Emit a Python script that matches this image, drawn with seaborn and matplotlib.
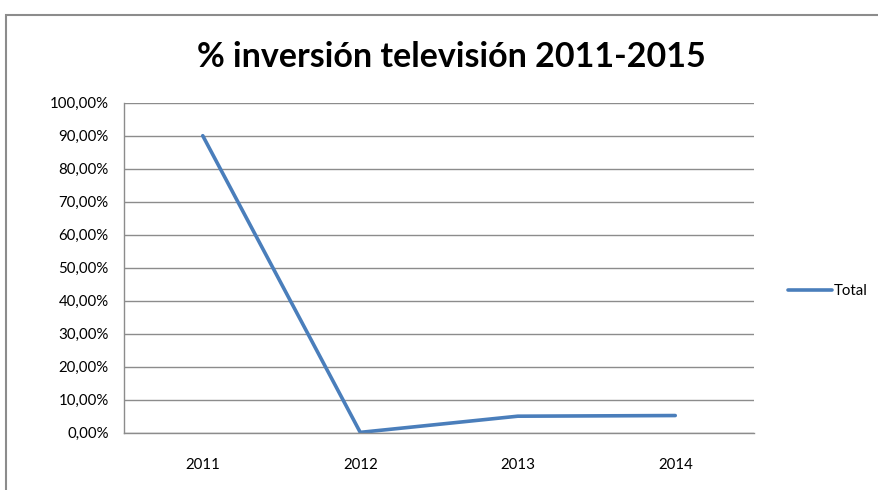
import matplotlib
matplotlib.use("Agg")
import matplotlib.pyplot as plt
import seaborn as sns
import pandas as pd
from matplotlib.patches import Rectangle
from matplotlib.ticker import FuncFormatter, MultipleLocator

years = ["2011", "2012", "2013", "2014"]
total = [0.90, 0.001, 0.050, 0.052]
title = "% inversión televisión 2011-2015"
series_name = "Total"

df = pd.DataFrame({"year": years, "value": total, "series": series_name})

sns.set_theme(style="white")
plt.rcParams["font.family"] = ["Lato", "DejaVu Sans"]
plt.rcParams["text.color"] = "black"

fig = plt.figure(figsize=(8.79, 4.90), dpi=100)
ax = fig.add_axes([124/879, 1-432.7/490, (754-124)/879, (432.7-102.7)/490])

sns.lineplot(data=df, x="year", y="value", hue="series", palette=["#4A7EBB"],
             linewidth=2.6, ax=ax, sort=False, solid_capstyle="round")

ax.set_xlim(-0.5, len(years) - 0.5)
ax.set_ylim(0, 1.0)
ax.yaxis.set_major_locator(MultipleLocator(0.1))
ax.yaxis.set_major_formatter(FuncFormatter(lambda v, p: f"{v*100:.2f}%".replace(".", ",")))
ax.grid(axis="y", color="#8c8c8c", linewidth=1.0)
ax.set_axisbelow(True)
for s in ["top", "right"]:
    ax.spines[s].set_visible(False)
for s in ["left", "bottom"]:
    ax.spines[s].set_color("#8c8c8c")
    ax.spines[s].set_linewidth(1.0)
ax.tick_params(axis="both", length=0, labelsize=10.8, colors="#000000")
ax.tick_params(axis="x", pad=18)
ax.tick_params(axis="y", pad=11)
ax.set_xlabel("")
ax.set_ylabel("")

h, l = ax.get_legend_handles_labels()
ax.legend(h, l, loc="center left", bbox_to_anchor=(1.045, 0.43), frameon=False,
          fontsize=10.8, handlelength=2.9, handletextpad=0.1, borderaxespad=0,
          labelcolor="black")

fig.text(451/879, 1 - 57/490, title, ha="center", va="center", fontsize=24.5,
         fontweight="bold", color="black")

fig.patches.append(Rectangle((6/879, -0.1), 1.2, 1 - 15/490 + 0.1, transform=fig.transFigure,
                             fill=False, edgecolor="#8c8c8c", linewidth=1.5))

fig.savefig("out.png", dpi=100)
